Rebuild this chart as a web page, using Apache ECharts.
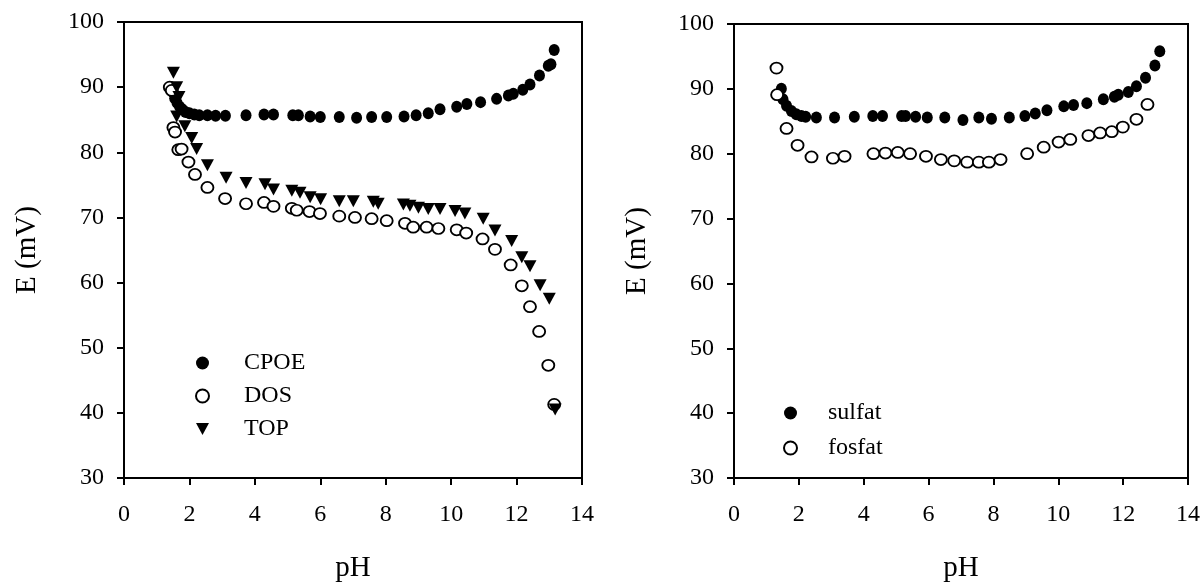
<!DOCTYPE html>
<html>
<head>
<meta charset="utf-8">
<script src="https://cdn.jsdelivr.net/npm/echarts@6/dist/echarts.min.js"></script>
<style>
  html, body { margin: 0; padding: 0; background: #fff; }
  #chart { width: 1203px; height: 588px; }
</style>
</head>
<body>
<div id="chart"></div>
<script>
// left panel
var cpoePH = [1.50, 1.55, 1.62, 1.70, 1.78, 1.88, 2.00, 2.15, 2.30, 2.55, 2.80, 3.10, 3.73, 4.28, 4.57, 5.16, 5.33, 5.69, 6.00, 6.58, 7.11, 7.57, 8.03, 8.56, 8.93, 9.30, 9.66, 10.17, 10.48, 10.90, 11.39, 11.75, 11.90, 12.19, 12.41, 12.70, 12.97, 13.05, 13.15]
var cpoeE = [89.2, 88.3, 87.6, 87.0, 86.6, 86.2, 86.0, 85.8, 85.7, 85.7, 85.6, 85.6, 85.7, 85.8, 85.8, 85.7, 85.7, 85.5, 85.4, 85.4, 85.3, 85.4, 85.4, 85.5, 85.7, 86.0, 86.6, 87.0, 87.4, 87.7, 88.2, 88.7, 89.0, 89.6, 90.4, 91.8, 93.3, 93.5, 95.7]
var dosPH = [1.40, 1.46, 1.51, 1.56, 1.66, 1.76, 1.97, 2.17, 2.55, 3.09, 3.73, 4.28, 4.57, 5.13, 5.28, 5.67, 5.99, 6.58, 7.06, 7.57, 8.03, 8.59, 8.84, 9.25, 9.61, 10.17, 10.46, 10.96, 11.34, 11.82, 12.16, 12.41, 12.69, 12.97, 13.15]
var dosE = [90.0, 89.5, 83.8, 83.1, 80.4, 80.5, 78.5, 76.6, 74.6, 72.9, 72.1, 72.3, 71.7, 71.4, 71.1, 70.9, 70.6, 70.2, 70.0, 69.8, 69.5, 69.1, 68.5, 68.5, 68.3, 68.1, 67.6, 66.7, 65.1, 62.7, 59.5, 56.3, 52.5, 47.3, 41.3]
var topPH = [1.51, 1.61, 1.68, 1.61, 1.86, 2.07, 2.22, 2.55, 3.12, 3.73, 4.31, 4.57, 5.13, 5.38, 5.69, 6.01, 6.58, 7.01, 7.62, 7.77, 8.54, 8.74, 9.00, 9.30, 9.66, 10.12, 10.42, 10.98, 11.34, 11.85, 12.16, 12.41, 12.72, 13.00, 13.18]
var topE = [92.2, 90.0, 88.5, 85.5, 84.0, 82.2, 80.5, 78.0, 76.1, 75.3, 75.1, 74.3, 74.1, 73.8, 73.1, 72.8, 72.5, 72.5, 72.4, 72.1, 72.0, 71.8, 71.5, 71.3, 71.3, 71.0, 70.6, 69.8, 68.0, 66.4, 63.9, 62.5, 59.6, 57.5, 40.5]

// right panel
var sulfatPH = [1.46, 1.51, 1.62, 1.77, 1.92, 2.08, 2.21, 2.54, 3.10, 3.71, 4.28, 4.58, 5.17, 5.29, 5.60, 5.96, 6.50, 7.06, 7.55, 7.94, 8.49, 8.97, 9.29, 9.65, 10.17, 10.47, 10.88, 11.39, 11.73, 11.85, 12.16, 12.41, 12.69, 12.98, 13.13]
var sulfatE = [90.0, 88.4, 87.4, 86.6, 86.1, 85.8, 85.7, 85.6, 85.6, 85.7, 85.8, 85.8, 85.8, 85.8, 85.7, 85.6, 85.6, 85.2, 85.6, 85.4, 85.6, 85.8, 86.2, 86.7, 87.3, 87.5, 87.8, 88.4, 88.8, 89.1, 89.5, 90.4, 91.7, 93.6, 95.8]
var fosfatPH = [1.31, 1.33, 1.62, 1.96, 2.39, 3.05, 3.41, 4.30, 4.67, 5.05, 5.43, 5.92, 6.38, 6.79, 7.19, 7.55, 7.86, 8.22, 9.04, 9.55, 10.01, 10.37, 10.93, 11.29, 11.65, 11.99, 12.41, 12.75]
var fosfatE = [93.2, 89.1, 83.9, 81.3, 79.5, 79.3, 79.6, 80.0, 80.1, 80.2, 80.0, 79.6, 79.1, 78.9, 78.7, 78.7, 78.7, 79.1, 80.0, 81.0, 81.8, 82.2, 82.8, 83.2, 83.4, 84.1, 85.3, 87.6]

var font = 'Liberation Serif'
var downTri = 'path://M0,0L12,0L6,11Z' // triangle pointing down

function pairs(xs, ys) {
  return xs.map(function (x, i) { return [x, ys[i]] })
}

function xAxisOf(idx) {
  return {
    gridIndex: idx, type: 'value', min: 0, max: 14, interval: 2,
    name: 'pH', nameLocation: 'middle', nameGap: 76,
    nameTextStyle: { fontFamily: font, fontSize: 29, color: '#000' },
    axisLine: { lineStyle: { color: '#000', width: 2 } },
    axisTick: { inside: false, length: 7, lineStyle: { color: '#000', width: 2 } },
    axisLabel: { fontFamily: font, fontSize: 24, color: '#000', margin: 25 },
    splitLine: { show: false }
  }
}

function yAxisOf(idx) {
  return {
    gridIndex: idx, type: 'value', min: 30, max: 100, interval: 10,
    name: 'E (mV)', nameLocation: 'middle', nameGap: 82,
    nameTextStyle: { fontFamily: font, fontSize: 29, color: '#000' },
    axisLine: { lineStyle: { color: '#000', width: 2 } },
    axisTick: { inside: false, length: 7, lineStyle: { color: '#000', width: 2 } },
    axisLabel: { fontFamily: font, fontSize: 24, color: '#000', margin: 20 },
    splitLine: { show: false }
  }
}

var filled = { color: '#000', opacity: 1 }
var hollow = { color: '#fff', borderColor: '#000', borderWidth: 1.8, opacity: 1 }

var myChart = echarts.init(document.getElementById('chart'))
var option = {
  backgroundColor: '#fff',
  animation: false,
  grid: [
    { left: 124, top: 22, width: 458, height: 458, show: true, borderColor: '#000', borderWidth: 2 },
    { left: 734, top: 24, width: 456, height: 458, show: true, borderColor: '#000', borderWidth: 2 }
  ],
  xAxis: [xAxisOf(0), xAxisOf(1)],
  yAxis: [yAxisOf(0), yAxisOf(1)],
  legend: [
    {
      data: ['CPOE', 'DOS', { name: 'TOP', icon: downTri }], orient: 'vertical', left: 190, top: 346,
      itemWidth: 13, itemHeight: 13, itemGap: 9,
      textStyle: { fontFamily: font, fontSize: 24, color: '#000', padding: [0, 0, 0, 30] }
    },
    {
      data: ['sulfat', 'fosfat'], orient: 'vertical', left: 778, top: 396,
      itemWidth: 13, itemHeight: 13, itemGap: 11,
      textStyle: { fontFamily: font, fontSize: 24, color: '#000', padding: [0, 0, 0, 26] }
    }
  ],
  series: [
    { name: 'CPOE', type: 'scatter', xAxisIndex: 0, yAxisIndex: 0, symbol: 'circle', symbolSize: [11, 12], itemStyle: filled, data: pairs(cpoePH, cpoeE) },
    { name: 'DOS', type: 'scatter', xAxisIndex: 0, yAxisIndex: 0, symbol: 'circle', symbolSize: [12, 11], itemStyle: hollow, data: pairs(dosPH, dosE) },
    { name: 'TOP', type: 'scatter', xAxisIndex: 0, yAxisIndex: 0, symbol: downTri, symbolSize: [13, 12], itemStyle: filled, data: pairs(topPH, topE) },
    { name: 'sulfat', type: 'scatter', xAxisIndex: 1, yAxisIndex: 1, symbol: 'circle', symbolSize: [11, 12], itemStyle: filled, data: pairs(sulfatPH, sulfatE) },
    { name: 'fosfat', type: 'scatter', xAxisIndex: 1, yAxisIndex: 1, symbol: 'circle', symbolSize: [12, 11], itemStyle: hollow, data: pairs(fosfatPH, fosfatE) }
  ]
}
myChart.setOption(option)
</script>
</body>
</html>
